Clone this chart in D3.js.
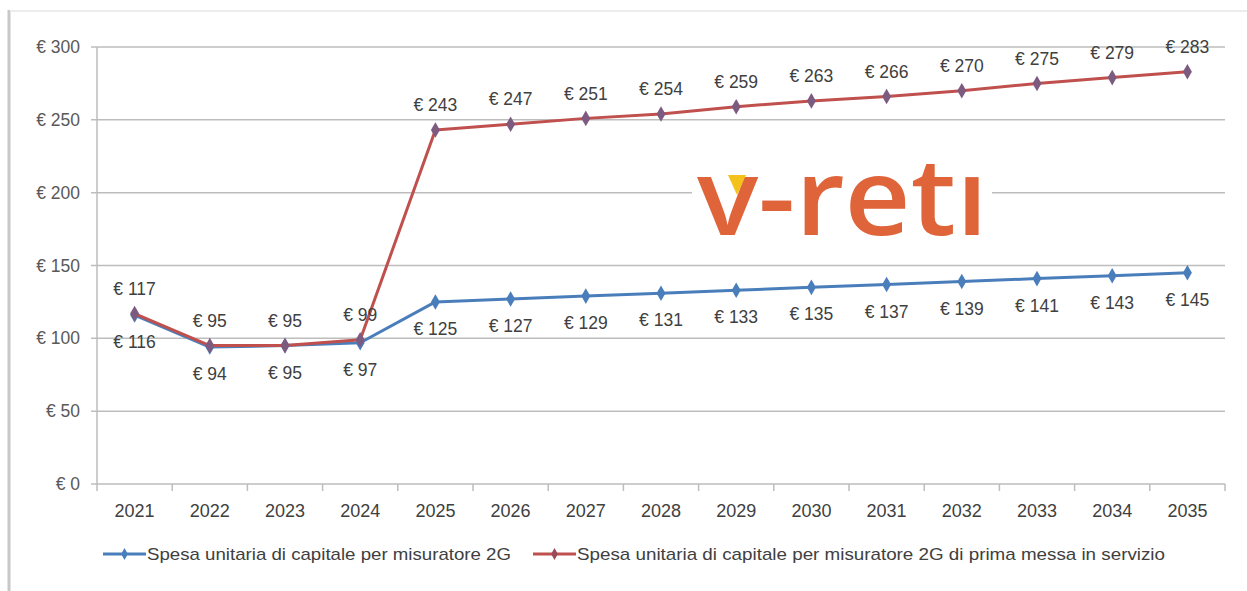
<!DOCTYPE html>
<html><head><meta charset="utf-8">
<script src="https://cdn.jsdelivr.net/npm/d3@7"></script>
<style>body{margin:0;background:#fff}svg{display:block}</style>
</head><body>
<svg id="c" width="1247" height="591"></svg>
<script>
const years = ["2021","2022","2023","2024","2025","2026","2027","2028","2029","2030","2031","2032","2033","2034","2035"];
const blueValues = [116,94,95,97,125,127,129,131,133,135,137,139,141,143,145];
const redValues = [117,95,95,99,243,247,251,254,259,263,266,270,275,279,283];
const yTicks = [0,50,100,150,200,250,300];
const seriesNames = ["Spesa unitaria di capitale per misuratore 2G","Spesa unitaria di capitale per misuratore 2G di prima messa in servizio"];

const svg = d3.select("#c");
const font = "'Liberation Sans', Arial, sans-serif";
// frame
svg.append("line").attr("x1",9).attr("x2",9).attr("y1",10).attr("y2",591).attr("stroke","#c8c8c8").attr("stroke-width",3);
svg.append("line").attr("x1",10).attr("x2",1247).attr("y1",11).attr("y2",11).attr("stroke","#ececec").attr("stroke-width",2);

const x = d3.scaleBand().domain(years).range([97,1225]);
const y = d3.scaleLinear().domain([0,300]).range([484,47]);

// gridlines
svg.append("g").selectAll("line").data(yTicks).join("line")
  .attr("x1",91).attr("x2",1225).attr("y1",d=>y(d)).attr("y2",d=>y(d))
  .attr("stroke","#bdbdbd").attr("stroke-width",1.5);
// y axis line
svg.append("line").attr("x1",97).attr("x2",97).attr("y1",y(300)).attr("y2",y(0)).attr("stroke","#bdbdbd").attr("stroke-width",1.5);
// x ticks at band boundaries
svg.append("g").selectAll("line").data(d3.range(years.length+1)).join("line")
  .attr("x1",i=>97+i*x.step()).attr("x2",i=>97+i*x.step()).attr("y1",y(0)).attr("y2",y(0)+7)
  .attr("stroke","#bdbdbd").attr("stroke-width",1.5);
// y labels
svg.append("g").selectAll("text").data(yTicks).join("text")
  .attr("x",80).attr("y",d=>y(d)).attr("dy","0.35em").attr("text-anchor","end")
  .attr("font-family",font).attr("font-size",17.5).attr("fill","#595959")
  .text(d=>"€ "+d);
// x labels
svg.append("g").selectAll("text").data(years).join("text")
  .attr("x",d=>x(d)+x.bandwidth()/2).attr("y",511).attr("dy","0.35em").attr("text-anchor","middle")
  .attr("font-family",font).attr("font-size",18).attr("fill","#404040")
  .text(d=>d);

// logo
const logo = svg.append("g");
logo.append("rect").attr("x",692).attr("y",160).attr("width",300).attr("height",80).attr("fill","#fff");
logo.append("text").attr("x",697).attr("y",235).attr("font-family","'Open Sans', sans-serif").attr("font-weight",600)
  .attr("font-size",106).attr("fill","#e0643a").attr("textLength",291).attr("lengthAdjust","spacingAndGlyphs").text("v-retı");
logo.append("path").attr("d","M728,175 L746,175 L737,195 Z").attr("fill","#f5c21b");

const cx = d => x(d)+x.bandwidth()/2;
const line = d3.line().x((v,i)=>cx(years[i])).y(v=>y(v));
const diamond = d3.symbol().type(d3.symbolDiamond).size(70);

function drawSeries(vals,color,mcolor){
  const g = svg.append("g");
  g.append("path").attr("d",line(vals)).attr("fill","none").attr("stroke",color).attr("stroke-width",3).attr("stroke-linejoin","round");
  g.selectAll("path.m").data(vals).join("path").attr("class","m")
    .attr("transform",(v,i)=>`translate(${cx(years[i])},${y(v)})`).attr("d",diamond).attr("fill",mcolor);
  return g;
}
drawSeries(blueValues,"#4a7ebb","#4a7ebb");
drawSeries(redValues,"#c0504d","#7d5a80");

// labels
svg.append("g").selectAll("text").data(redValues).join("text")
  .attr("x",(v,i)=>cx(years[i])).attr("y",v=>y(v)-25).attr("dy","0.35em").attr("text-anchor","middle")
  .attr("font-family",font).attr("font-size",17.5).attr("fill","#404040").text(v=>"€ "+v);
svg.append("g").selectAll("text").data(blueValues).join("text")
  .attr("x",(v,i)=>cx(years[i])).attr("y",v=>y(v)+27).attr("dy","0.35em").attr("text-anchor","middle")
  .attr("font-family",font).attr("font-size",17.5).attr("fill","#404040").text(v=>"€ "+v);

// legend
const legend = [{name:seriesNames[0],color:"#4a7ebb",m:"#4a7ebb",x:103,w:364},{name:seriesNames[1],color:"#c0504d",m:"#9b4a5a",x:533,w:588}];
const lg = svg.append("g").selectAll("g").data(legend).join("g").attr("transform",d=>`translate(${d.x},554)`);
lg.append("line").attr("x1",0).attr("x2",43).attr("stroke",d=>d.color).attr("stroke-width",3);
lg.append("path").attr("transform","translate(21.5,0)").attr("d",d3.symbol().type(d3.symbolDiamond).size(40)).attr("fill",d=>d.m);
lg.append("text").attr("x",44).attr("dy","0.35em").attr("font-family",font).attr("font-size",17).attr("fill","#404040")
  .attr("textLength",d=>d.w).attr("lengthAdjust","spacingAndGlyphs").text(d=>d.name);
</script>
</body></html>
